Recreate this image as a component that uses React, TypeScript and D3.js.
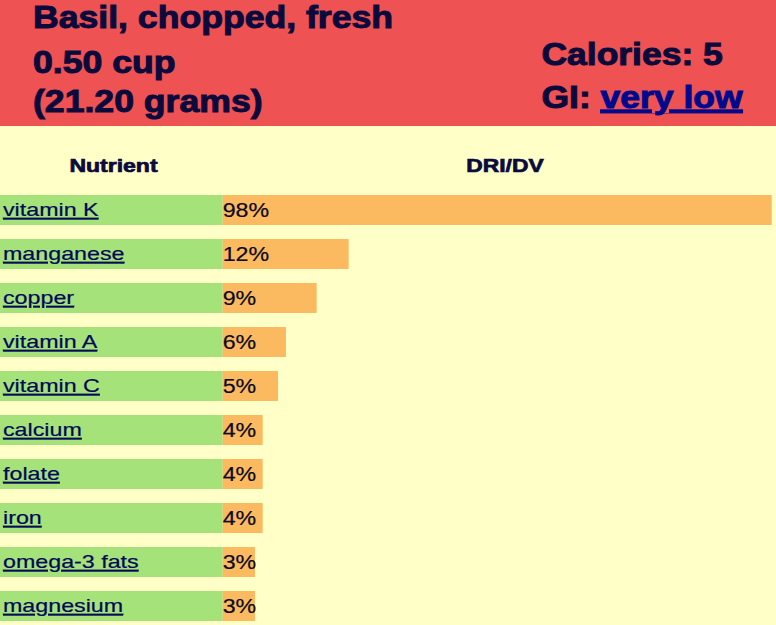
import React from "react";
import * as d3 from "d3";

const nutrients = ["vitamin K", "manganese", "copper", "vitamin A", "vitamin C", "calcium", "folate", "iron", "omega-3 fats", "magnesium"];
const dvPercent = [98, 12.0, 8.95, 6.03, 5.27, 3.81, 3.81, 3.81, 3.08, 3.08];
const titleLines = ["Basil, chopped, fresh", "0.50 cup", "(21.20 grams)"];
const calories = 5;
const giLabel = "very low";
const columnHeaders = ["Nutrient", "DRI/DV"];

const W = 776;
const H = 625;
const FONT = "'Liberation Sans', Arial, Helvetica, sans-serif";
const NAVY = "#0a0a3c";
const LINK = "#000a8c";

function SText({ x, y, sx = 1, size, weight = "normal", fill, anchor = "start", children, underline = false, sw = 0 }: any) {
  return (
    <text
      transform={`translate(${x},${y}) scale(${sx},1)`}
      fontFamily={FONT}
      fontSize={size}
      fontWeight={weight}
      fill={fill}
      stroke={sw ? fill : undefined}
      strokeWidth={sw || undefined}
      textAnchor={anchor}
      textDecoration={underline ? "underline" : undefined}
    >
      {children}
    </text>
  );
}

export default function App() {
  const y = d3
    .scaleBand<string>()
    .domain(nutrients)
    .range([195, 621])
    .paddingInner(14 / 44)
    .paddingOuter(0);
  const x = d3.scaleLinear().domain([0, 52.3]).range([222.7, 771.7]).clamp(true);
  const fmt = d3.format(".0f");
  const bw = y.bandwidth();

  return (
    <svg width={W} height={H} style={{ position: "absolute", left: 0, top: 0 }}>
      <rect x={0} y={0} width={W} height={H} fill="#ffffc8" />
      <rect x={0} y={0} width={W} height={126} fill="#ee5252" />
      {titleLines.map((t, i) => (
        <SText key={t} x={33} y={[28, 73, 112][i]} sx={1.16} size={30.7} weight="bold" fill={NAVY} sw={1}>
          {t}
        </SText>
      ))}
      <SText x={541.5} y={64.5} sx={1.155} size={30.7} weight="bold" fill={NAVY} sw={1}>
        {`Calories: ${calories}`}
      </SText>
      <SText x={541.5} y={108} sx={1.155} size={30.7} weight="bold" fill={NAVY} sw={1}>
        GI: <tspan fill={LINK} stroke={LINK} textDecoration="underline">{giLabel}</tspan>
      </SText>

      <SText x={113.5} y={171.7} sx={1.23} size={18.7} weight="bold" fill={NAVY} anchor="middle" sw={0.7}>
        {columnHeaders[0]}
      </SText>
      <SText x={505} y={171.7} sx={1.22} size={18.7} weight="bold" fill={NAVY} anchor="middle" sw={0.7}>
        {columnHeaders[1]}
      </SText>

      {nutrients.map((n, i) => {
        const top = y(n) as number;
        const v = dvPercent[i];
        return (
          <g key={n}>
            <rect x={0} y={top} width={x(0)} height={bw} fill="#a6e27a" />
            <rect x={x(0)} y={top} width={x(v) - x(0)} height={bw} fill="#fcba60" />
            <SText x={3} y={top + 21} sx={1.25} size={18.6} fill="#00085a" underline sw={0.2}>
              {n}
            </SText>
            <SText x={x(0)} y={top + 22} sx={1.19} size={19.5} fill="#0a0a1e" sw={0.2}>
              {`${fmt(v)}%`}
            </SText>
          </g>
        );
      })}
    </svg>
  );
}
